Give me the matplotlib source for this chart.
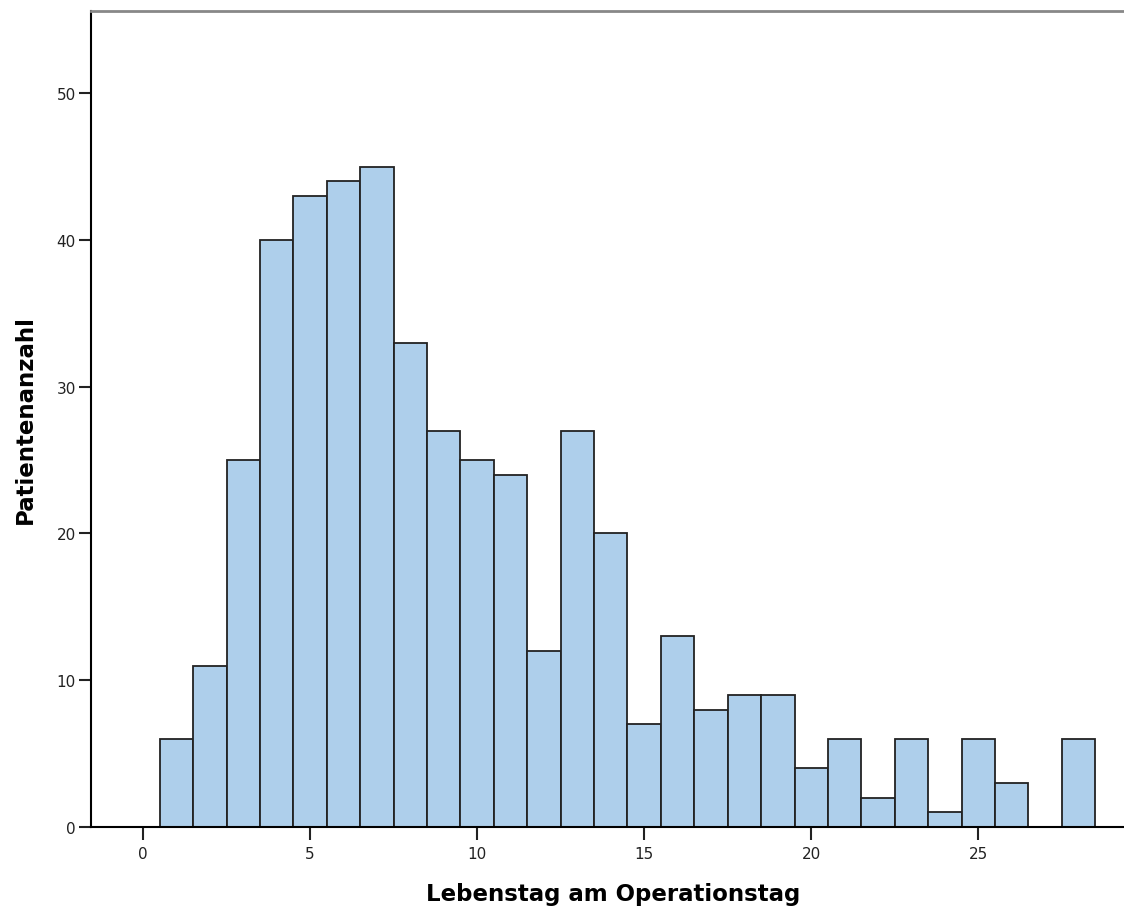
import matplotlib
matplotlib.use('Agg')
from matplotlib import pyplot as plt

# Data: day of life on day of surgery vs. number of patients
days = list(range(1, 29))
counts = [6, 11, 25, 40, 43, 44, 45, 33, 27, 25, 24, 12, 27, 20,
          7, 13, 8, 9, 9, 4, 6, 2, 6, 1, 6, 3, 0, 6]
x_ticks = [0, 5, 10, 15, 20, 25]
y_ticks = [0, 10, 20, 30, 40, 50]

plt.rcParams['font.family'] = ['DejaVu Sans']

fig = plt.figure(figsize=(11.24, 9.12), dpi=100)
ax = fig.add_axes([91 / 1124, 84 / 912, 1 - 91 / 1124 + 0.01, (828 - 12) / 912])

ax.bar(days, counts, width=1.0, color='#aecfeb', edgecolor='#222222', linewidth=1.3)

ax.set_xlim(-1.56, 29.7)
ax.set_ylim(0, 55.6)
ax.set_xticks(x_ticks)
ax.set_yticks(y_ticks)

ax.spines['right'].set_visible(False)
ax.spines['top'].set_color('#888888')
ax.spines['top'].set_linewidth(2)
ax.spines['left'].set_linewidth(1.5)
ax.spines['bottom'].set_linewidth(1.5)
ax.tick_params(axis='both', direction='out', length=9, width=1.5, labelsize=11, colors='#222222')
ax.tick_params(axis='x', pad=5)
ax.tick_params(axis='y', pad=2)

ax.set_xlabel('Lebenstag am Operationstag', fontsize=16.5, fontweight='bold', labelpad=15)
ax.set_ylabel('Patientenanzahl', fontsize=16.5, fontweight='bold', labelpad=14)

plt.savefig('out.png', dpi=100)
